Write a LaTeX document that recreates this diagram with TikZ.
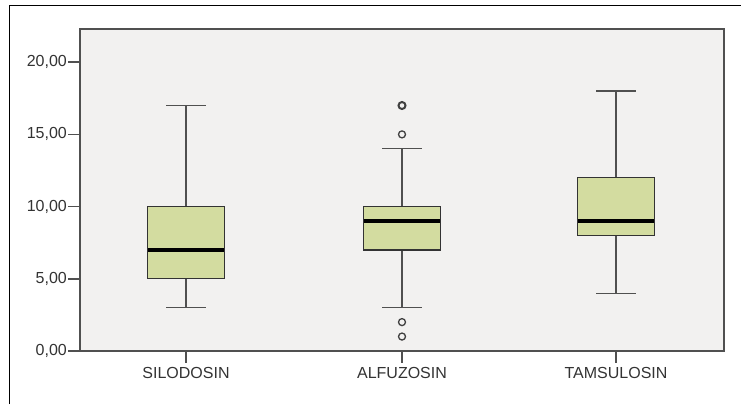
\documentclass[tikz,border=0pt]{standalone}
\usepackage{fontspec}
\setmainfont{Liberation Sans}
\definecolor{plotbg}{RGB}{242,241,240}
\definecolor{boxfill}{RGB}{211,220,160}
\definecolor{axisgray}{RGB}{80,80,80}

\begin{document}
\begin{tikzpicture}
[x=1pt,y=1pt, % one unit is one pixel of the chart
axis/.style={draw=axisgray,line width=1.6pt},
whisker/.style={draw=axisgray,line width=1.3pt},
box/.style={draw=black!80,fill=boxfill,line width=1.3pt},
median/.style={draw=black,line width=4pt},
outlier/.style={circle,draw=black!75,line width=1.3pt,inner sep=0pt,minimum size=7pt},
every node/.style={font=\fontsize{16}{18}\selectfont,text=black!80}]
\useasboundingbox (0,0) rectangle (741,404);
% outer frame, only its top and left edges show
\draw[line width=1pt] (9,0) -- (9,398) -- (741,398);
% plot area
\filldraw[axis,fill=plotbg] (80,53) rectangle (724,375);
% y axis ticks
\foreach \v/\t in {0/{0,00},5/{5,00},10/{10,00},15/{15,00},20/{20,00}}{
  \pgfmathsetmacro\yy{53+14.44*\v}
  \draw[axis] (68,\yy) -- (80,\yy);
  \node[anchor=east,inner sep=1pt] (yt\v) at (68,\yy) {\t};
}
% boxes
\foreach \x/\lo/\qa/\me/\qb/\hi/\lab in {186/3/5/7/10/17/SILODOSIN,402/3/7/9/10/14/ALFUZOSIN,616/4/8/9/12/18/TAMSULOSIN}{
  \pgfmathsetmacro\ylo{53+14.44*\lo}
  \pgfmathsetmacro\yqa{53+14.44*\qa}
  \pgfmathsetmacro\yme{53+14.44*\me}
  \pgfmathsetmacro\yqb{53+14.44*\qb}
  \pgfmathsetmacro\yhi{53+14.44*\hi}
  \draw[whisker] (\x,\ylo) -- (\x,\yqa) (\x,\yqb) -- (\x,\yhi);
  \draw[whisker] (\x-20,\ylo) -- (\x+20,\ylo) (\x-20,\yhi) -- (\x+20,\yhi);
  \draw[box] (\x-38.5,\yqa) rectangle (\x+38.5,\yqb);
  \draw[median] (\x-38,\yme) -- (\x+38,\yme);
  \draw[axis] (\x,53) -- (\x,41);
  \node (\lab) at (\x,31) {\lab};
}
% outliers of alfuzosin
\node[outlier,line width=2pt] (o17) at (402,{53+14.44*17}) {};
\node[outlier] (o15) at (402,{53+14.44*15}) {};
\node[outlier] (o2) at (402,{53+14.44*2}) {};
\node[outlier] (o1) at (402,{53+14.44*1}) {};
\end{tikzpicture}
\end{document}
